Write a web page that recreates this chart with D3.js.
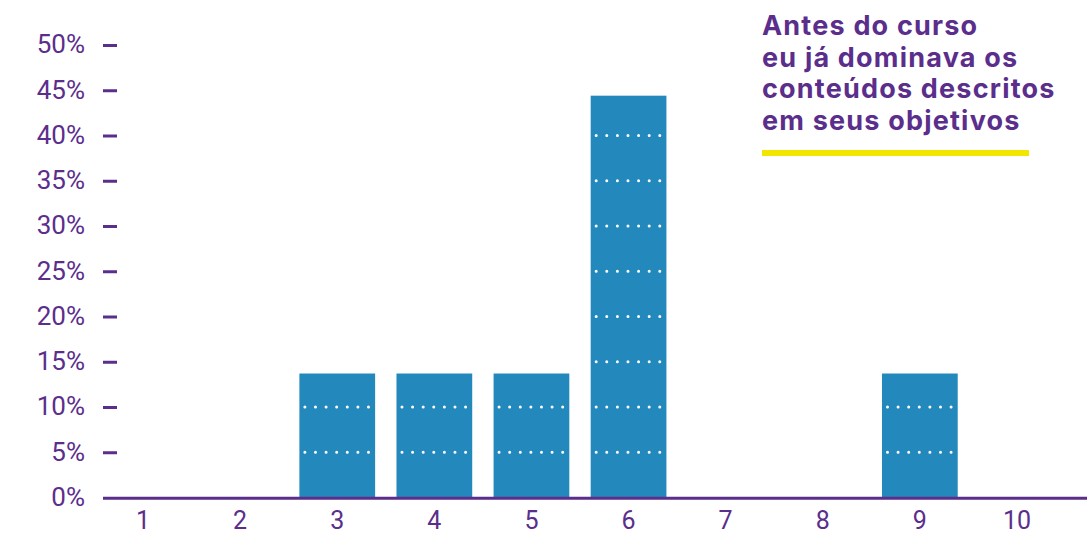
<!DOCTYPE html>
<html>
<head>
<meta charset="utf-8">
<script src="https://cdn.jsdelivr.net/npm/d3@7"></script>
<style>
  html, body { margin: 0; padding: 0; background: #fff; }
  svg { display: block; }
</style>
</head>
<body>
<svg id="chart" width="1087" height="534"></svg>
<script>
const categories = ["1", "2", "3", "4", "5", "6", "7", "8", "9", "10"];
const values = [0, 0, 13.7, 13.7, 13.7, 44.4, 0, 0, 13.7, 0];
const yTicks = [0, 5, 10, 15, 20, 25, 30, 35, 40, 45, 50];
const legendLines = ["Antes do curso", "eu já dominava os", "conteúdos descritos", "em seus objetivos"];

const purple = "#5b2e8c";
const barColor = "#2389bd";
const yellow = "#f2e600";

const svg = d3.select("#chart");

const x = d3.scaleBand().domain(categories).range([94.5, 1065.5])
  .paddingInner(0.22).paddingOuter(0.11);
const y = d3.scaleLinear().domain([0, 50]).range([497.5, 45]);

// bars
const data = categories.map((c, i) => ({ c, v: values[i] }));
const bars = svg.append("g").selectAll("g").data(data.filter(d => d.v > 0)).join("g");
bars.append("rect")
  .attr("x", d => x(d.c))
  .attr("y", d => y(d.v))
  .attr("width", x.bandwidth())
  .attr("height", d => y(0) - y(d.v))
  .attr("fill", barColor);

// dotted white gridlines inside bars
bars.each(function(d) {
  const g = d3.select(this);
  const inner = yTicks.filter(t => t > 0 && t < d.v);
  g.selectAll("line").data(inner).join("line")
    .attr("x1", x(d.c) + 5.5)
    .attr("x2", x(d.c) + x.bandwidth() - 5)
    .attr("y1", t => y(t))
    .attr("y2", t => y(t))
    .attr("stroke", "#fff")
    .attr("stroke-width", 3)
    .attr("stroke-linecap", "round")
    .attr("stroke-dasharray", "0 10.6");
});

// baseline
svg.append("line")
  .attr("x1", 103).attr("x2", 1087)
  .attr("y1", y(0) + 0.8).attr("y2", y(0) + 0.8)
  .attr("stroke", purple).attr("stroke-width", 3);

// y axis
const yAxis = svg.append("g")
  .attr("transform", "translate(117,0)")
  .call(d3.axisLeft(y).tickValues(yTicks).tickFormat(d => d + "%").tickSize(14).tickPadding(18));
yAxis.select(".domain").remove();
yAxis.selectAll(".tick line")
  .attr("stroke", purple).attr("stroke-width", 3)
  .filter(d => d === 0).remove();
yAxis.selectAll(".tick text")
  .attr("fill", purple)
  .attr("dy", "0.3em")
  .style("font-family", "Roboto, sans-serif")
  .style("font-size", "26px");

// x axis
const xAxis = svg.append("g")
  .attr("transform", `translate(0,${y(0)})`)
  .call(d3.axisBottom(x).tickSize(0).tickPadding(14));
xAxis.select(".domain").remove();
xAxis.selectAll(".tick text")
  .attr("fill", purple)
  .style("font-family", "Roboto, sans-serif")
  .style("font-size", "25px");

// legend
const legend = svg.append("g");
legend.selectAll("text").data(legendLines).join("text")
  .attr("x", 762)
  .attr("y", (d, i) => 35 + i * 31.5)
  .attr("fill", purple)
  .style("font-family", "Inter, sans-serif")
  .style("font-weight", 700)
  .style("font-size", "27px")
  .style("letter-spacing", "1.2px")
  .text(d => d);
legend.append("rect")
  .attr("x", 762).attr("y", 150)
  .attr("width", 267).attr("height", 6)
  .attr("fill", yellow);
</script>
</body>
</html>
